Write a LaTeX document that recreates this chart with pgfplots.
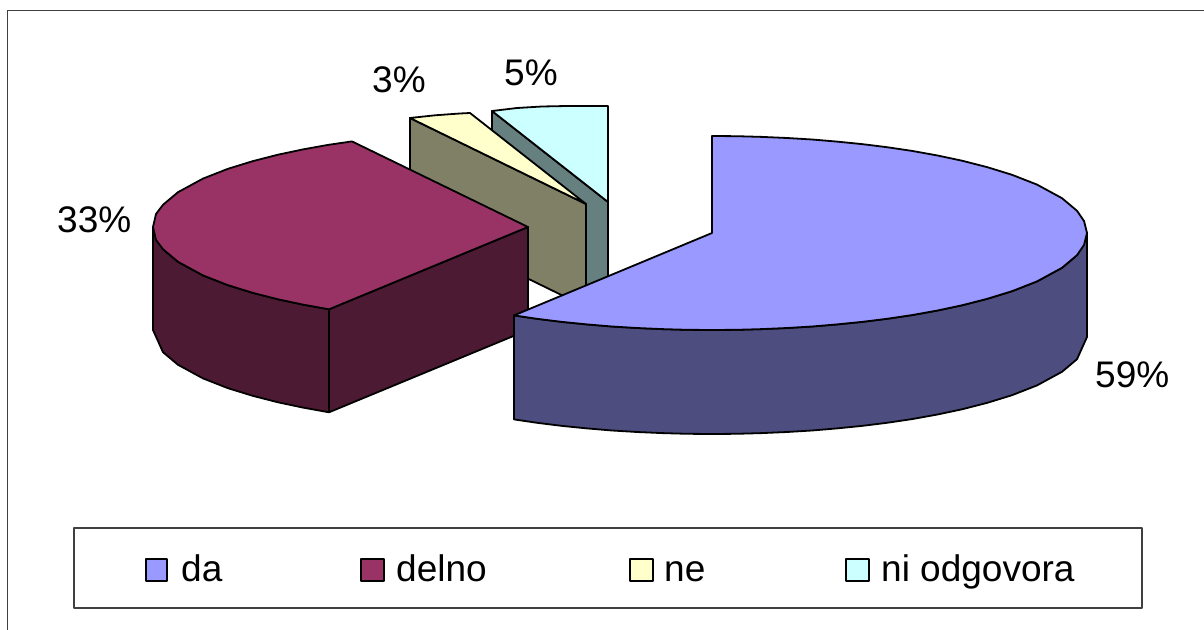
\documentclass[border=0pt]{standalone}
\usepackage{pgfplots}
\pgfplotsset{compat=1.18}
\usepackage{fontspec}
\setmainfont{Liberation Sans}
\definecolor{da}{HTML}{9999FF}
\definecolor{dadark}{HTML}{4D4D80}
\definecolor{delno}{HTML}{993366}
\definecolor{delnodark}{HTML}{4D1A33}
\definecolor{ne}{HTML}{FFFFCC}
\definecolor{nedark}{HTML}{808066}
\definecolor{ni}{HTML}{CCFFFF}
\definecolor{nidark}{HTML}{668080}
\begin{document}
\begin{tikzpicture}
\begin{axis}[
  x=1bp, y=1bp,
  scale only axis,
  xmin=0, xmax=1204,
  ymin=0, ymax=630,
  y dir=reverse,
  hide axis,
  clip=true,
  every axis plot/.append style={line width=1.8bp, black, line join=round},
]
% keeps the page at the full picture size
\addplot[draw=none] coordinates {(0,0) (1204,630)};
% frame
\addplot[black!75, line width=1.5bp] coordinates {(7.5,630) (7.5,10.5) (1204,10.5)};
% ni odgovora, 5%
\addplot[fill=nidark] coordinates {(492,111) (608,202) (608,305) (492,214)} --cycle;
\addplot[fill=ni] coordinates {(492,111) (517,108) (542,106.5) (567,106) (608,106) (608,202)} --cycle;
% ne, 3%
\addplot[fill=nedark] coordinates {(410,118) (586,204) (586,307) (410,221)} --cycle;
\addplot[fill=ne] coordinates {(410,118) (435,115.3) (460,113.5) (470,113) (586,204)} --cycle;
% delno, 33%
\addplot[fill=delnodark] coordinates {(153,227) (163,249.2) (178,261.8) (203,275.4) (228,285.2) (253,292.9) (278,299.3) (303,304.6) (329,309.3) (528,227) (528,330) (329,412.3) (303,407.6) (278,402.3) (253,395.9) (228,388.2) (203,378.4) (178,364.8) (163,352.2) (153,330)} --cycle;
\addplot[fill=delno] coordinates {(352,141.4) (328,144.9) (303,149.4) (278,154.7) (253,161.1) (228,168.8) (203,178.6) (178,192.2) (163,204.8) (156,214) (153,227) (156,240) (163,249.2) (178,261.8) (203,275.4) (228,285.2) (253,292.9) (278,299.3) (303,304.6) (329,309.3) (528,227)} --cycle;
\addplot[black] coordinates {(329,309.3) (329,412.3)};
% da, 59%
\addplot[fill=dadark] coordinates {(514,315.4) (537,318.8) (562,321.9) (587,324.4) (612,326.5) (637,328) (662,329.1) (687,329.8) (712,330) (737,329.8) (762,329.1) (787,328) (812,326.5) (837,324.4) (862,321.9) (887,318.8) (912,315.1) (937,310.6) (962,305.3) (987,298.9) (1012,291.2) (1037,281.4) (1062,267.8) (1077,255.2) (1087,233) (1087,337) (1077,359.2) (1062,371.8) (1037,385.4) (1012,395.2) (987,402.9) (962,409.3) (937,414.6) (912,419.1) (887,422.8) (862,425.9) (837,428.4) (812,430.5) (787,432) (762,433.1) (737,433.8) (712,434) (687,433.8) (662,433.1) (637,432) (612,430.5) (587,428.4) (562,425.9) (537,422.8) (514,419.4)} --cycle;
\addplot[fill=da] coordinates {(712,136) (737,136.2) (762,136.9) (787,138) (812,139.5) (837,141.6) (862,144.1) (887,147.2) (912,150.9) (937,155.4) (962,160.7) (987,167.1) (1012,174.8) (1037,184.6) (1062,198.2) (1077,210.8) (1084,221) (1087,233) (1084,245) (1077,255.2) (1062,267.8) (1037,281.4) (1012,291.2) (987,298.9) (962,305.3) (937,310.6) (912,315.1) (887,318.8) (862,321.9) (837,324.4) (812,326.5) (787,328) (762,329.1) (737,329.8) (712,330) (687,329.8) (662,329.1) (637,328) (612,326.5) (587,324.4) (562,321.9) (537,318.8) (514,315.4) (712,233)} --cycle;
% legend box and keys
\addplot[black!75, line width=1.5bp] coordinates {(74,528) (1142,528) (1142,608) (74,608)} --cycle;
\addplot[fill=da] coordinates {(146,559) (167,559) (167,581) (146,581)} --cycle;
\addplot[fill=delno] coordinates {(361,559) (384,559) (384,581) (361,581)} --cycle;
\addplot[fill=ne] coordinates {(630,559) (653,559) (653,581) (630,581)} --cycle;
\addplot[fill=ni] coordinates {(846,559) (869,559) (869,581) (846,581)} --cycle;
% labels
\tikzset{lab/.style={anchor=base west, inner sep=0pt, font=\fontsize{37bp}{37bp}\selectfont}}
\node[lab] at (axis cs:57,233) {33\%};
\node[lab] at (axis cs:372,93) {3\%};
\node[lab] at (axis cs:504,86) {5\%};
\node[lab] at (axis cs:1095,387) {59\%};
\node[lab] at (axis cs:181,581) {da};
\node[lab] at (axis cs:396,581) {delno};
\node[lab] at (axis cs:664,581) {ne};
\node[lab] at (axis cs:881,581) {ni odgovora};
\end{axis}
\end{tikzpicture}
\end{document}
